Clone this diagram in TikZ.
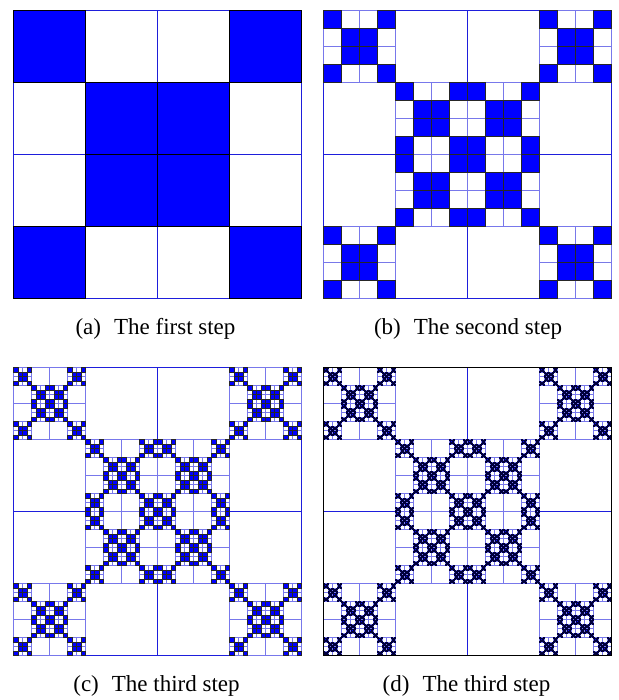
\documentclass[tikz,border=0pt]{standalone}
\usepackage{fontspec}
\setmainfont{Liberation Serif}
\definecolor{fblue}{RGB}{0,0,255}
\definecolor{gblue}{RGB}{30,30,220}
\definecolor{lblue}{RGB}{120,120,235}
\definecolor{nblue}{RGB}{0,0,60}
\tikzset{
  captext/.style={anchor=base, font=\fontsize{23}{27}\selectfont, inner sep=0pt},
}
\newcommand\fracgrid[5]{% #1 remaining depth, #2 x, #3 y, #4 size, #5 level
  \begingroup
  \pgfmathsetmacro\fs{#4/4}%
  \ifnum#5=1 \def\lw{1.15pt}\def\wc{gblue}\def\bc{black}%
  \else\ifnum#5=2 \def\lw{0.8pt}\def\wc{lblue}\def\bc{black!85}%
  \else\ifnum#5=3 \def\lw{0.5pt}\def\wc{lblue}\def\bc{black!85}%
  \else\def\lw{0.3pt}\def\wc{lblue}\def\bc{nblue}\fi\fi\fi
  \foreach \i in {0,...,3}{\foreach \j in {0,...,3}{%
    \pgfmathtruncatemacro\isf{((\i==\j)||(\i+\j==3))?1:0}%
    \ifnum\isf=0
      \draw[draw=\wc, line width=\lw] (#2+\i*\fs, #3+\j*\fs) rectangle ++(\fs,\fs);
    \fi}}%
  \foreach \i in {0,...,3}{\foreach \j in {0,...,3}{%
    \pgfmathtruncatemacro\isf{((\i==\j)||(\i+\j==3))?1:0}%
    \ifnum\isf=1
      \pgfmathsetmacro\cx{#2+\i*\fs}\pgfmathsetmacro\cy{#3+\j*\fs}%
      \ifnum#1>1
        \pgfmathtruncatemacro\nd{#1-1}\pgfmathtruncatemacro\nl{#5+1}%
        \edef\next{\noexpand\fracgrid{\nd}{\cx}{\cy}{\fs}{\nl}}\next
      \else
        \fill[fill=fblue, draw=\bc, line width=\lw] (\cx,\cy) rectangle ++(\fs,\fs);
      \fi
    \fi}}%
  \endgroup}
\begin{document}
\begin{tikzpicture}[x=1pt,y=-1pt]
\useasboundingbox (0,0) rectangle (618,700);
\fracgrid{1}{13.5}{10.5}{288}{1}
\fracgrid{2}{323.5}{10.5}{288}{1}
\fracgrid{3}{13.5}{367.5}{288}{1}
\fracgrid{4}{323.5}{367.5}{288}{1}
\draw[black, line width=1.15pt] (323.5,367.5) rectangle ++(288,288);
\node[captext] (capa) at (155.5,334) {(a)\hspace{13pt}The first step};
\node[captext] (capb) at (468,334) {(b)\hspace{13pt}The second step};
\node[captext] (capc) at (156.5,691) {(c)\hspace{13pt}The third step};
\node[captext] (capd) at (466.5,691) {(d)\hspace{13pt}The third step};
\end{tikzpicture}
\end{document}
